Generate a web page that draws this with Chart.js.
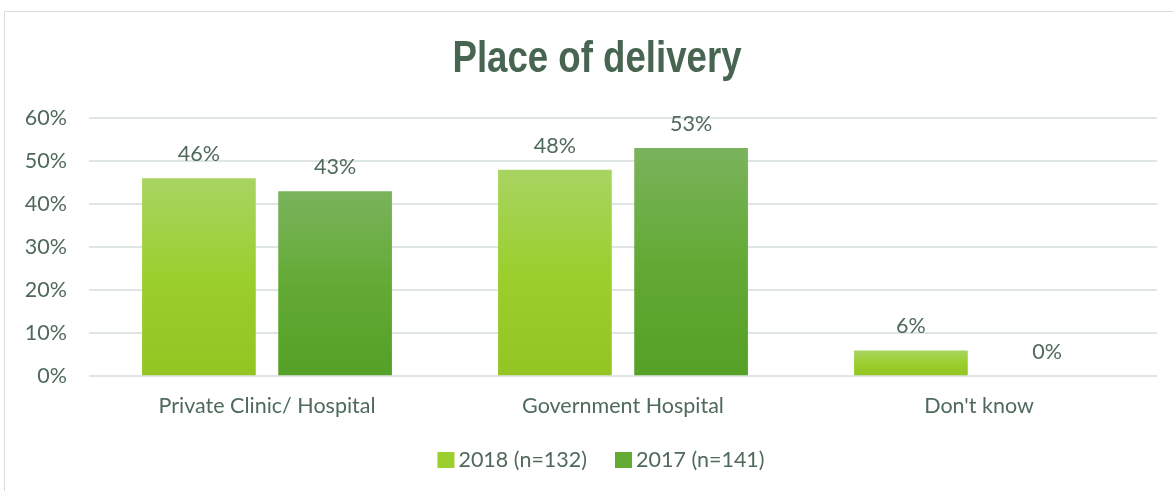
<!DOCTYPE html>
<html>
<head>
<meta charset="utf-8">
<script src="https://cdn.jsdelivr.net/npm/chart.js@4/dist/chart.umd.min.js"></script>
<style>
  html, body { margin: 0; padding: 0; background: #fff; }
  #wrap { position: relative; width: 1173px; height: 491px; }
  #frame { position: absolute; left: 4px; top: 11px; right: -2px; bottom: -2px; border: 1px solid #d9dcdc; }
  canvas { position: absolute; left: 0; top: 0; }
</style>
</head>
<body>
<div id="wrap">
  <div id="frame"></div>
  <canvas id="deliveryChart" width="1173" height="491"></canvas>
</div>
<script>
const categories = ['Private Clinic/ Hospital', 'Government Hospital', "Don't know"];
const seriesNames = ['2018 (n=132)', '2017 (n=141)'];
const values2018 = [46, 48, 6];
const values2017 = [43, 53, 0];
const yTicks = [0, 10, 20, 30, 40, 50, 60];
const chartTitle = 'Place of delivery';

const textColor = '#4f6a5b';
const gridColor = '#dfe5e5';
const legendFills = ['#9bcf2e', '#63aa35'];
const fontFamily = 'Lato, "Open Sans", sans-serif';
const tickFont = { family: fontFamily, size: 21.5 };

// each bar gets its own vertical gradient, like the original
function barGradient(mid, top, bottom) {
    return function (c) {
        const chart = c.chart;
        if (!chart.chartArea || c.type !== 'data') return bottom;
        const y = chart.scales.y;
        const yTop = y.getPixelForValue(c.raw);
        const yBot = y.getPixelForValue(0);
        if (yBot - yTop < 1) return bottom;
        const g = chart.ctx.createLinearGradient(0, yTop, 0, yBot);
        g.addColorStop(0, top);
        g.addColorStop(0.5, mid);
        g.addColorStop(1, bottom);
        return g;
    };
}

// value labels above the bars
const barLabels = {
    id: 'barLabels',
    afterDatasetsDraw(chart) {
        const ctx = chart.ctx;
        ctx.save();
        ctx.font = '21.5px ' + fontFamily;
        ctx.fillStyle = textColor;
        ctx.textAlign = 'center';
        ctx.textBaseline = 'middle';
        chart.data.datasets.forEach((ds, i) => {
            chart.getDatasetMeta(i).data.forEach((bar, j) => {
                ctx.fillText(ds.data[j] + '%', bar.x, bar.y - 24);
            });
        });
        ctx.restore();
    }
};

// condensed bold title, squeezed horizontally
const squeezedTitle = {
    id: 'squeezedTitle',
    afterDraw(chart) {
        const ctx = chart.ctx;
        ctx.save();
        ctx.font = 'bold 45px "Liberation Sans Narrow", "Arial Narrow", sans-serif';
        ctx.fillStyle = '#476551';
        ctx.textBaseline = 'alphabetic';
        ctx.textAlign = 'center';
        const w = ctx.measureText(chartTitle).width;
        ctx.translate(597, 72);
        ctx.scale(289 / w, 1);
        ctx.fillText(chartTitle, 0, 0);
        ctx.restore();
    }
};

// tight legend: square swatch, small gap, text
const tightLegend = {
    id: 'tightLegend',
    afterDraw(chart) {
        const ctx = chart.ctx;
        ctx.save();
        ctx.font = '21.5px ' + fontFamily;
        ctx.textBaseline = 'middle';
        ctx.textAlign = 'left';
        const box = 17, gap = 4, space = 28, cy = 460;
        const widths = chart.data.datasets.map(ds => ctx.measureText(ds.label).width);
        const total = widths.reduce((a, w) => a + box + gap + w, 0) + space * (widths.length - 1);
        let x = 601 - total / 2;
        chart.data.datasets.forEach((ds, i) => {
            ctx.fillStyle = legendFills[i];
            ctx.fillRect(x, cy - 8, box, 16);
            ctx.fillStyle = textColor;
            ctx.fillText(ds.label, x + box + gap, cy);
            x += box + gap + widths[i] + space;
        });
        ctx.restore();
    }
};

new Chart(document.getElementById('deliveryChart'), {
    type: 'bar',
    data: {
        labels: categories,
        datasets: [
            {
                label: seriesNames[0],
                data: values2018,
                backgroundColor: barGradient('#9bcf2e', '#a8d462', '#93c422'),
                categoryPercentage: 0.765,
                barPercentage: 0.835
            },
            {
                label: seriesNames[1],
                data: values2017,
                backgroundColor: barGradient('#63aa35', '#7ab35c', '#55a026'),
                categoryPercentage: 0.765,
                barPercentage: 0.835
            }
        ]
    },
    options: {
        responsive: false,
        animation: false,
        layout: { padding: { left: 20, right: 16, top: 118, bottom: 63 } },
        plugins: {
            title: { display: false },
            legend: { display: false },
            tooltip: { enabled: false }
        },
        scales: {
            x: {
                grid: { display: false },
                border: { display: false },
                ticks: { color: textColor, font: tickFont, padding: 9 }
            },
            y: {
                min: 0,
                max: 60,
                afterBuildTicks(scale) { scale.ticks = yTicks.map(v => ({ value: v })); },
                afterFit(scale) { scale.width = 69; },
                grid: { color: gridColor, lineWidth: 2, drawTicks: false },
                border: { display: false },
                ticks: {
                    color: textColor,
                    font: tickFont,
                    padding: 22,
                    callback: v => v + '%'
                }
            }
        }
    },
    plugins: [barLabels, squeezedTitle, tightLegend]
});
</script>
</body>
</html>
